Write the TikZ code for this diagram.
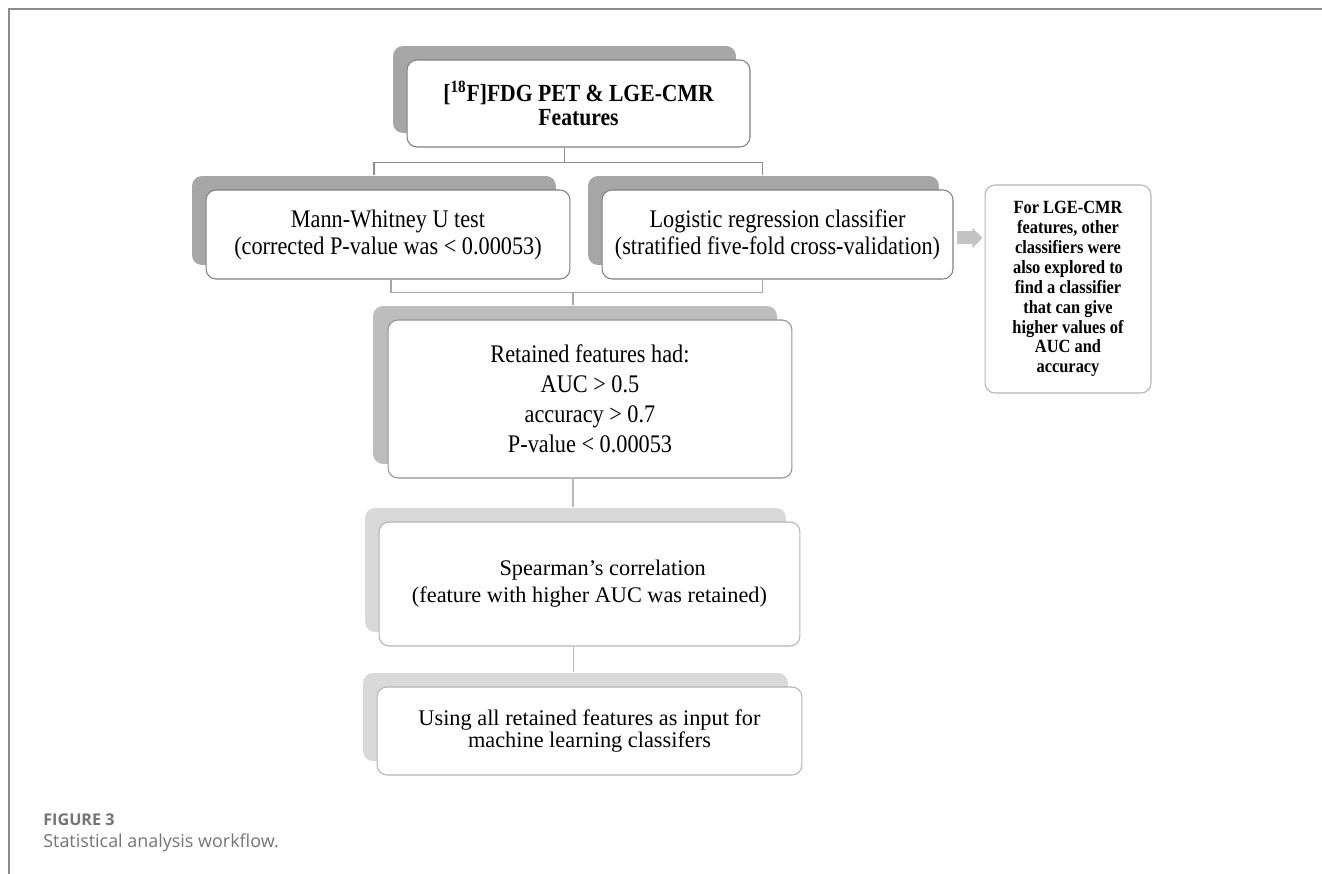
\documentclass[tikz,border=0pt]{standalone}
\usepackage{fontspec}
\setmainfont{Liberation Serif}
\newfontfamily\tallfont[FakeStretch=0.88]{Liberation Serif}
\newfontfamily\capfont{Open Sans}
\usepackage{tikz}
\usetikzlibrary{positioning,shadows,arrows.meta}

\definecolor{backdark}{HTML}{A6A6A6}
\definecolor{backmid}{HTML}{BDBDBD}
\definecolor{backlight}{HTML}{D9D9D9}
\definecolor{borderdark}{HTML}{808080}
\definecolor{bordermid}{HTML}{939393}
\definecolor{borderlight}{HTML}{B4B4B4}
\definecolor{linkdark}{HTML}{8C8C8C}
\definecolor{linkmid}{HTML}{A8A8A8}
\definecolor{linklight}{HTML}{BBBBBB}
\definecolor{arrowgray}{HTML}{C4C4C4}
\definecolor{framegray}{HTML}{8A8A8A}
\definecolor{capgray}{HTML}{747474}

\begin{document}
\begin{tikzpicture}[x=0.02cm,y=-0.02cm,
  card/.style={rounded corners=0.2cm, fill=white, line width=0.6pt, align=center, inner sep=2pt,
    font=\fontsize{12.7}{15.3}\selectfont},
  tierone/.style={card, draw=borderdark, font=\tallfont\fontsize{14.4}{15.3}\selectfont,
    general shadow={fill=backdark, shadow xshift=-0.28cm, shadow yshift=0.28cm}},
  tiertwo/.style={card, draw=bordermid, general shadow={fill=backmid, shadow xshift=-0.3cm, shadow yshift=0.28cm}},
  tierthree/.style={card, draw=borderlight, general shadow={fill=backlight, shadow xshift=-0.28cm, shadow yshift=0.28cm}},
  link/.style={draw=linkdark, line width=0.8pt},
  linkmid/.style={draw=linkmid, line width=0.8pt},
  linklight/.style={draw=linklight, line width=0.8pt},
  fatarrow/.style={draw=arrowgray, line width=7.4pt, -{Triangle[length=5.7pt,width=11.3pt]}}]
\useasboundingbox (0,0) rectangle (1322,874);
\draw[framegray, line width=0.85pt] (1322,9) -- (9,9) -- (9,874);

% boxes
\node[tierone, minimum width=6.86cm, minimum height=1.74cm, font=\tallfont\bfseries\fontsize{14}{13.6}\selectfont] (feat) at (578.5,103.5) {[\textsuperscript{18}F]FDG PET \& LGE-CMR\\Features};
\node[tierone, minimum width=7.28cm, minimum height=1.78cm] (mwu) at (388,234.5) {Mann-Whitney U test\\(corrected P-value was < 0.00053)};
\node[tierone, minimum width=7.02cm, minimum height=1.78cm] (logreg) at (777.5,234.5) {Logistic regression classifier\\(stratified five-fold cross-validation)};
\node[card, draw=borderlight, minimum width=3.32cm, minimum height=4.16cm, font=\tallfont\bfseries\fontsize{10.6}{11.34}\selectfont] (other) at (1068,289) {For LGE-CMR\\features, other\\classifiers were\\also explored to\\find a classifier\\that can give\\higher values of\\AUC and\\accuracy};
\node[tiertwo, minimum width=8.08cm, minimum height=3.16cm, font=\tallfont\fontsize{14.4}{17}\selectfont] (kept) at (590,399) {Retained features had:\\AUC > 0.5\\accuracy > 0.7\\P-value < 0.00053};
\node[tierthree, minimum width=8.42cm, minimum height=2.48cm] (spear) at (589.5,584) {\hspace*{15pt}Spearman’s correlation\\(feature with higher AUC was retained)};
\node[tierthree, minimum width=8.5cm, minimum height=1.76cm, font=\fontsize{12.7}{12.5}\selectfont] (input) at (589.5,731) {Using all retained features as input for\\machine learning classifers};

% connectors
\draw[link] ([xshift=-0.28cm]feat.south) -- ++(0,-0.3cm) coordinate (split)
  -| ([shift={(-0.28cm,0.28cm)}]mwu.north);
\draw[link] (split) -| ([shift={(-0.3cm,0.28cm)}]logreg.north);
\draw[linkmid] ([xshift=0.06cm]mwu.south) -- ++(0,-0.26cm) coordinate (merge) -| ([xshift=-0.3cm]logreg.south);
\draw[linkmid] ([xshift=-0.34cm]kept.north |- merge) -- ([shift={(-0.34cm,0.28cm)}]kept.north);
\draw[linklight] ([xshift=-0.34cm]kept.south) -- ([xshift=-0.34cm,yshift=0.28cm]kept.south |- spear.north);
\draw[linklight] ([xshift=-0.32cm]spear.south) -- ([xshift=-0.32cm,yshift=0.28cm]spear.south |- input.north);
\draw[fatarrow] ([xshift=0.06cm,yshift=-0.07cm]logreg.east) -- ([xshift=-0.04cm,yshift=-0.07cm]other.west |- logreg.east);

% caption
\node[anchor=west, inner sep=0, text=capgray, font=\capfont\bfseries\fontsize{9.2}{10}\selectfont] (figlabel) at (43,820) {FIGURE 3};
\node[anchor=west, inner sep=0, text=capgray, font=\capfont\fontsize{10.2}{12}\selectfont] (figtitle) at (43,843) {Statistical analysis workflow.};
\end{tikzpicture}
\end{document}
